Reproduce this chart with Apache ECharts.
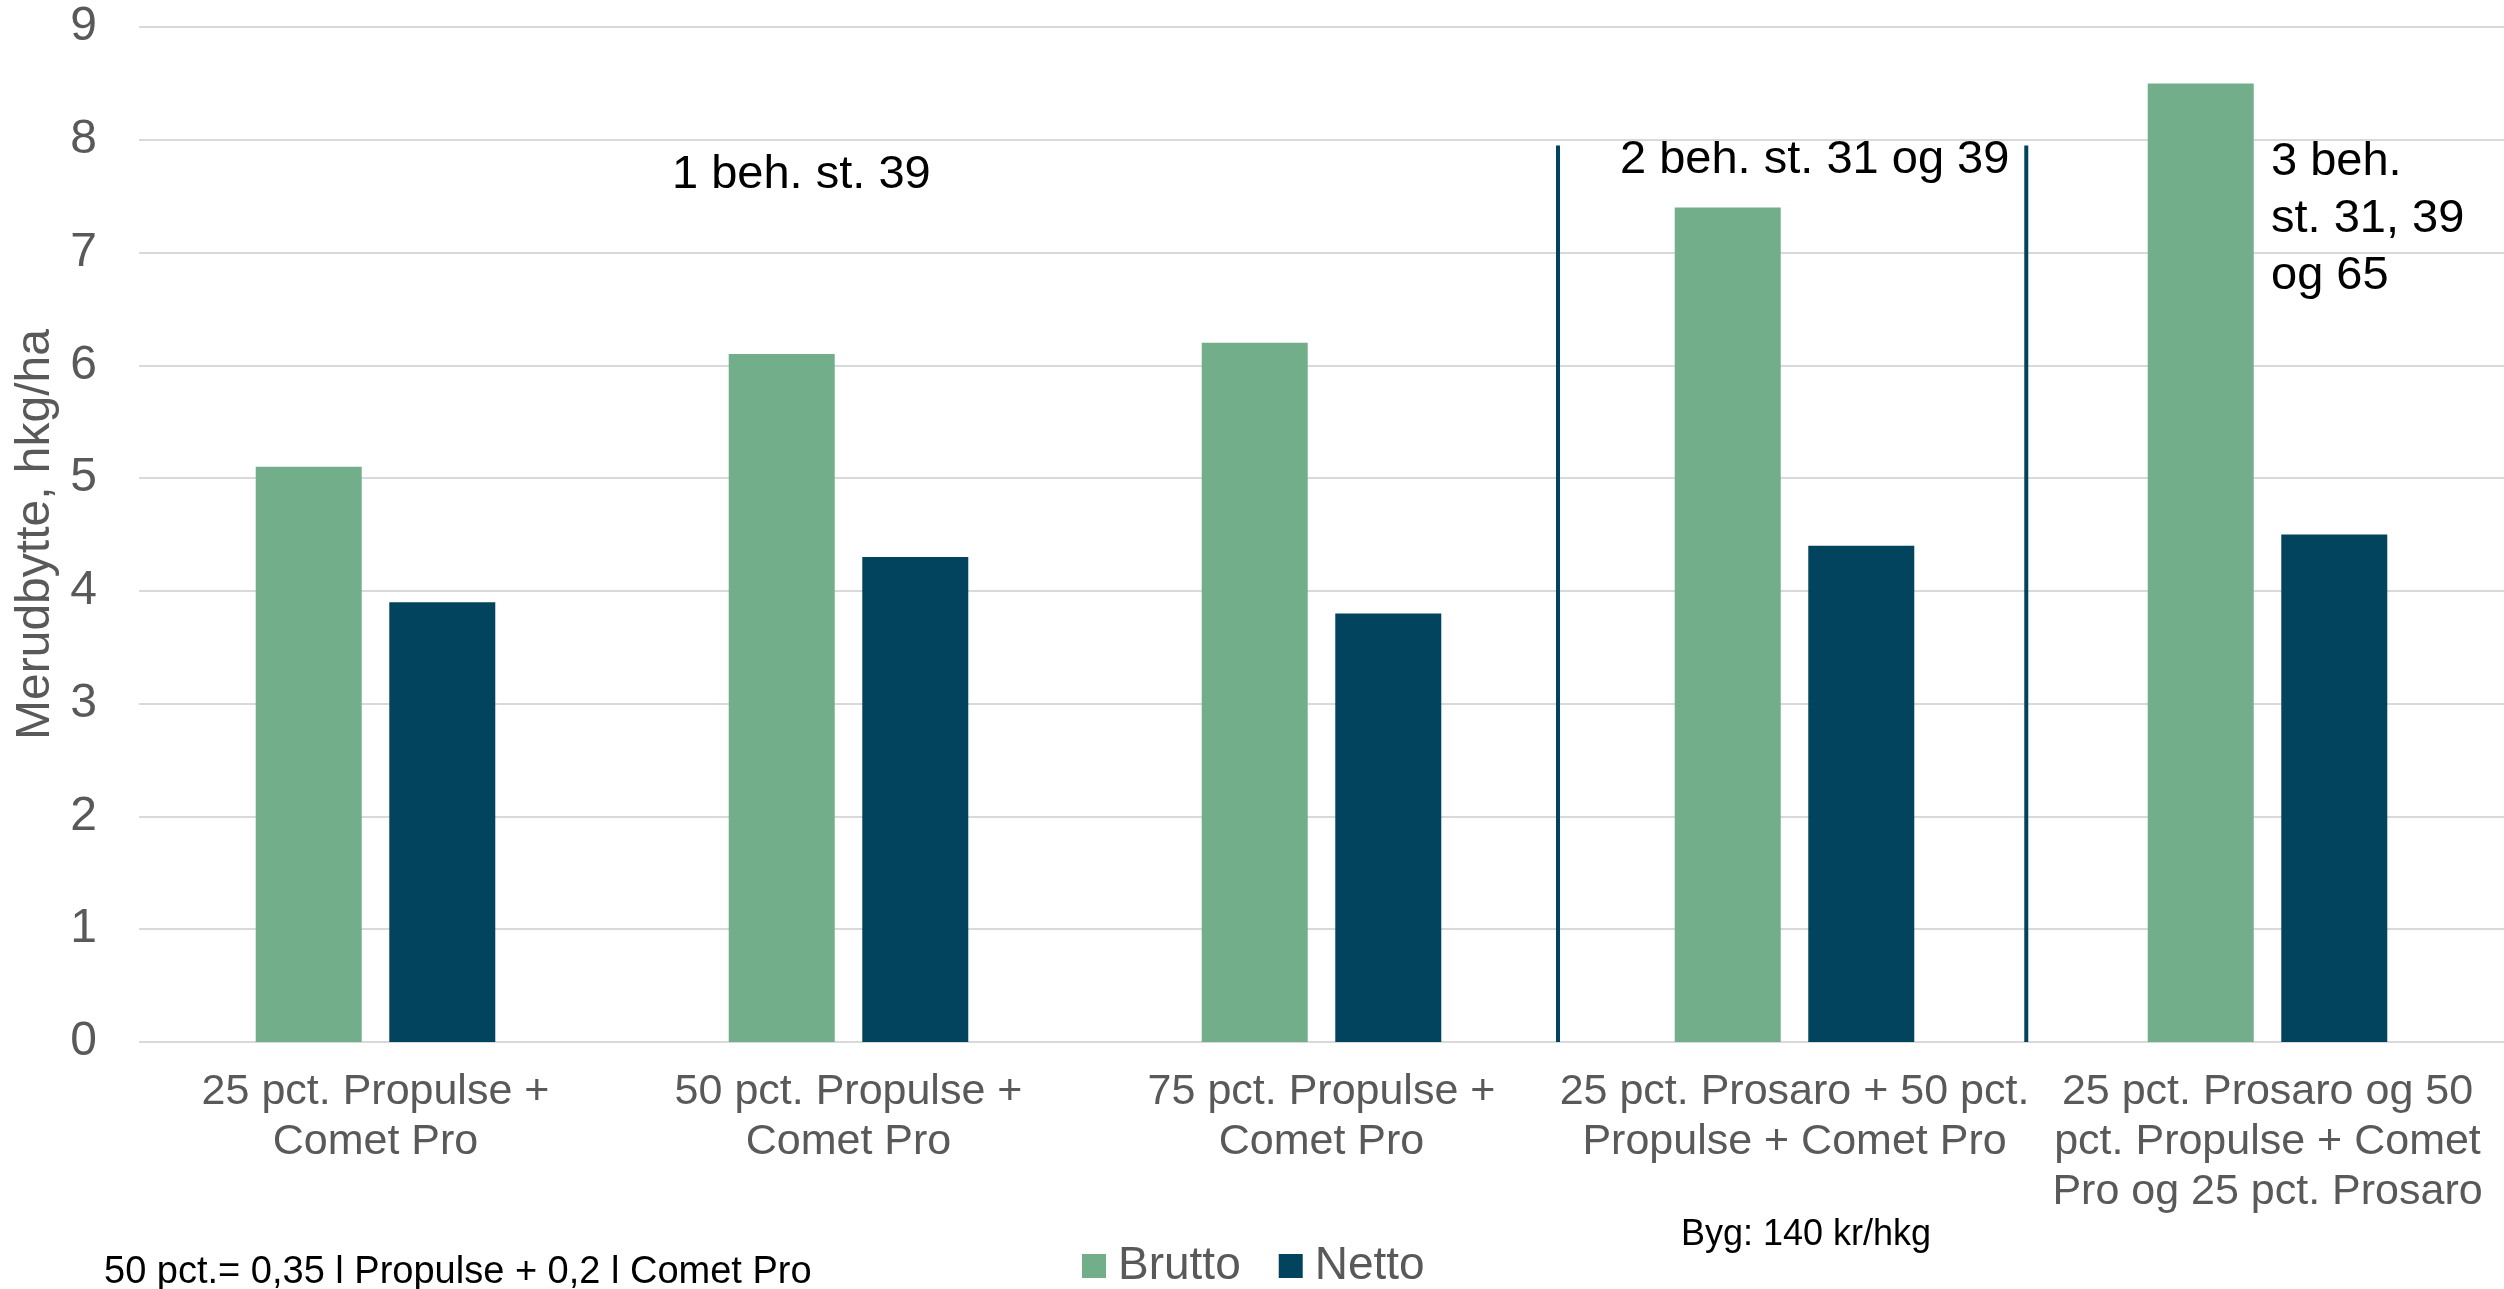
<!DOCTYPE html>
<html>
<head>
<meta charset="utf-8">
<script src="https://cdn.jsdelivr.net/npm/echarts@6/dist/echarts.min.js"></script>
<style>
html,body{margin:0;padding:0;background:#fff;}
#chart{width:2504px;height:1289px;}
</style>
</head>
<body>
<div id="chart"></div>
<script>
const categories = [
  "25 pct. Propulse +\nComet Pro",
  "50 pct. Propulse +\nComet Pro",
  "75 pct. Propulse +\nComet Pro",
  "25 pct. Prosaro + 50 pct.\nPropulse + Comet Pro",
  "25 pct. Prosaro og 50\npct. Propulse + Comet\nPro og 25 pct. Prosaro"
];
const brutto = [5.1, 6.1, 6.2, 7.4, 8.5];
const netto = [3.9, 4.3, 3.8, 4.4, 4.5];
const yTicks = [0, 9, 1]; // min, max, interval
const dividerX = [3, 3.99];   // group boundaries (in category units)
const dividerTop = 7.95;
const seriesNames = ["Brutto", "Netto"];

const FONT = '"Liberation Sans", Arial, sans-serif';
const GREEN = '#73AE8A';
const NAVY = '#02435E';
const GRAY = '#595959';

const chart = echarts.init(document.getElementById('chart'));

const dividerSeries = dividerX.map((x, i) => ({
  type: 'line',
  name: 'divider' + i,
  xAxisIndex: 1,
  yAxisIndex: 0,
  data: [[x, 0], [x, dividerTop]],
  symbol: 'none',
  silent: true,
  lineStyle: { color: NAVY, width: 4 },
  z: 5
}));

chart.setOption({
  animation: false,
  textStyle: { fontFamily: FONT },
  grid: { left: 139, right: 0, top: 27, bottom: 247, containLabel: false },
  xAxis: [
    {
      type: 'category',
      data: categories,
      axisLine: { show: false },
      axisTick: { show: false },
      axisLabel: {
        interval: 0,
        margin: 25,
        fontSize: 43,
        lineHeight: 50,
        color: GRAY,
        fontFamily: FONT
      }
    },
    {
      type: 'value',
      min: 0,
      max: categories.length,
      show: false
    }
  ],
  yAxis: {
    type: 'value',
    min: yTicks[0],
    max: yTicks[1],
    interval: yTicks[2],
    name: 'Merudbytte, hkg/ha',
    nameLocation: 'middle',
    nameGap: 76,
    nameTextStyle: { fontSize: 48, color: GRAY, fontFamily: FONT },
    axisLine: { show: false },
    axisTick: { show: false },
    axisLabel: { fontSize: 48, color: GRAY, margin: 42, fontFamily: FONT },
    splitLine: { lineStyle: { color: '#D9D9D9', width: 2 } }
  },
  legend: {
    data: seriesNames,
    left: 1082,
    top: 1243,
    padding: 0,
    icon: 'rect',
    itemWidth: 24,
    itemHeight: 24,
    itemGap: 38,
    textStyle: { fontSize: 46, color: GRAY, fontFamily: FONT, padding: [0, 0, 0, 7] }
  },
  series: [
    {
      type: 'bar',
      name: seriesNames[0],
      data: brutto,
      barWidth: 106,
      barGap: '26%',
      itemStyle: { color: GREEN }
    },
    {
      type: 'bar',
      name: seriesNames[1],
      data: netto,
      barWidth: 106,
      barGap: '26%',
      itemStyle: { color: NAVY }
    }
  ].concat(dividerSeries),
  graphic: [
    { type: 'text', left: 672, top: 175 - 26, style: { text: '1 beh. st. 39', font: '47px ' + FONT, fill: '#000', lineHeight: 52 } },
    { type: 'text', left: 1620, top: 160 - 26, style: { text: '2 beh. st. 31 og 39', font: '47px ' + FONT, fill: '#000', lineHeight: 52 } },
    { type: 'text', left: 2271, top: 162 - 28, style: { text: '3 beh.\nst. 31, 39\nog 65', font: '47px ' + FONT, fill: '#000', lineHeight: 57 } },
    { type: 'text', left: 104, top: 1273 - 21, style: { text: '50 pct.= 0,35 l Propulse + 0,2 l Comet Pro', font: '38px ' + FONT, fill: '#000', lineHeight: 42 } },
    { type: 'text', left: 1681, top: 1235 - 20, style: { text: 'Byg: 140 kr/hkg', font: '36px ' + FONT, fill: '#000', lineHeight: 40 } }
  ]
});
</script>
</body>
</html>
